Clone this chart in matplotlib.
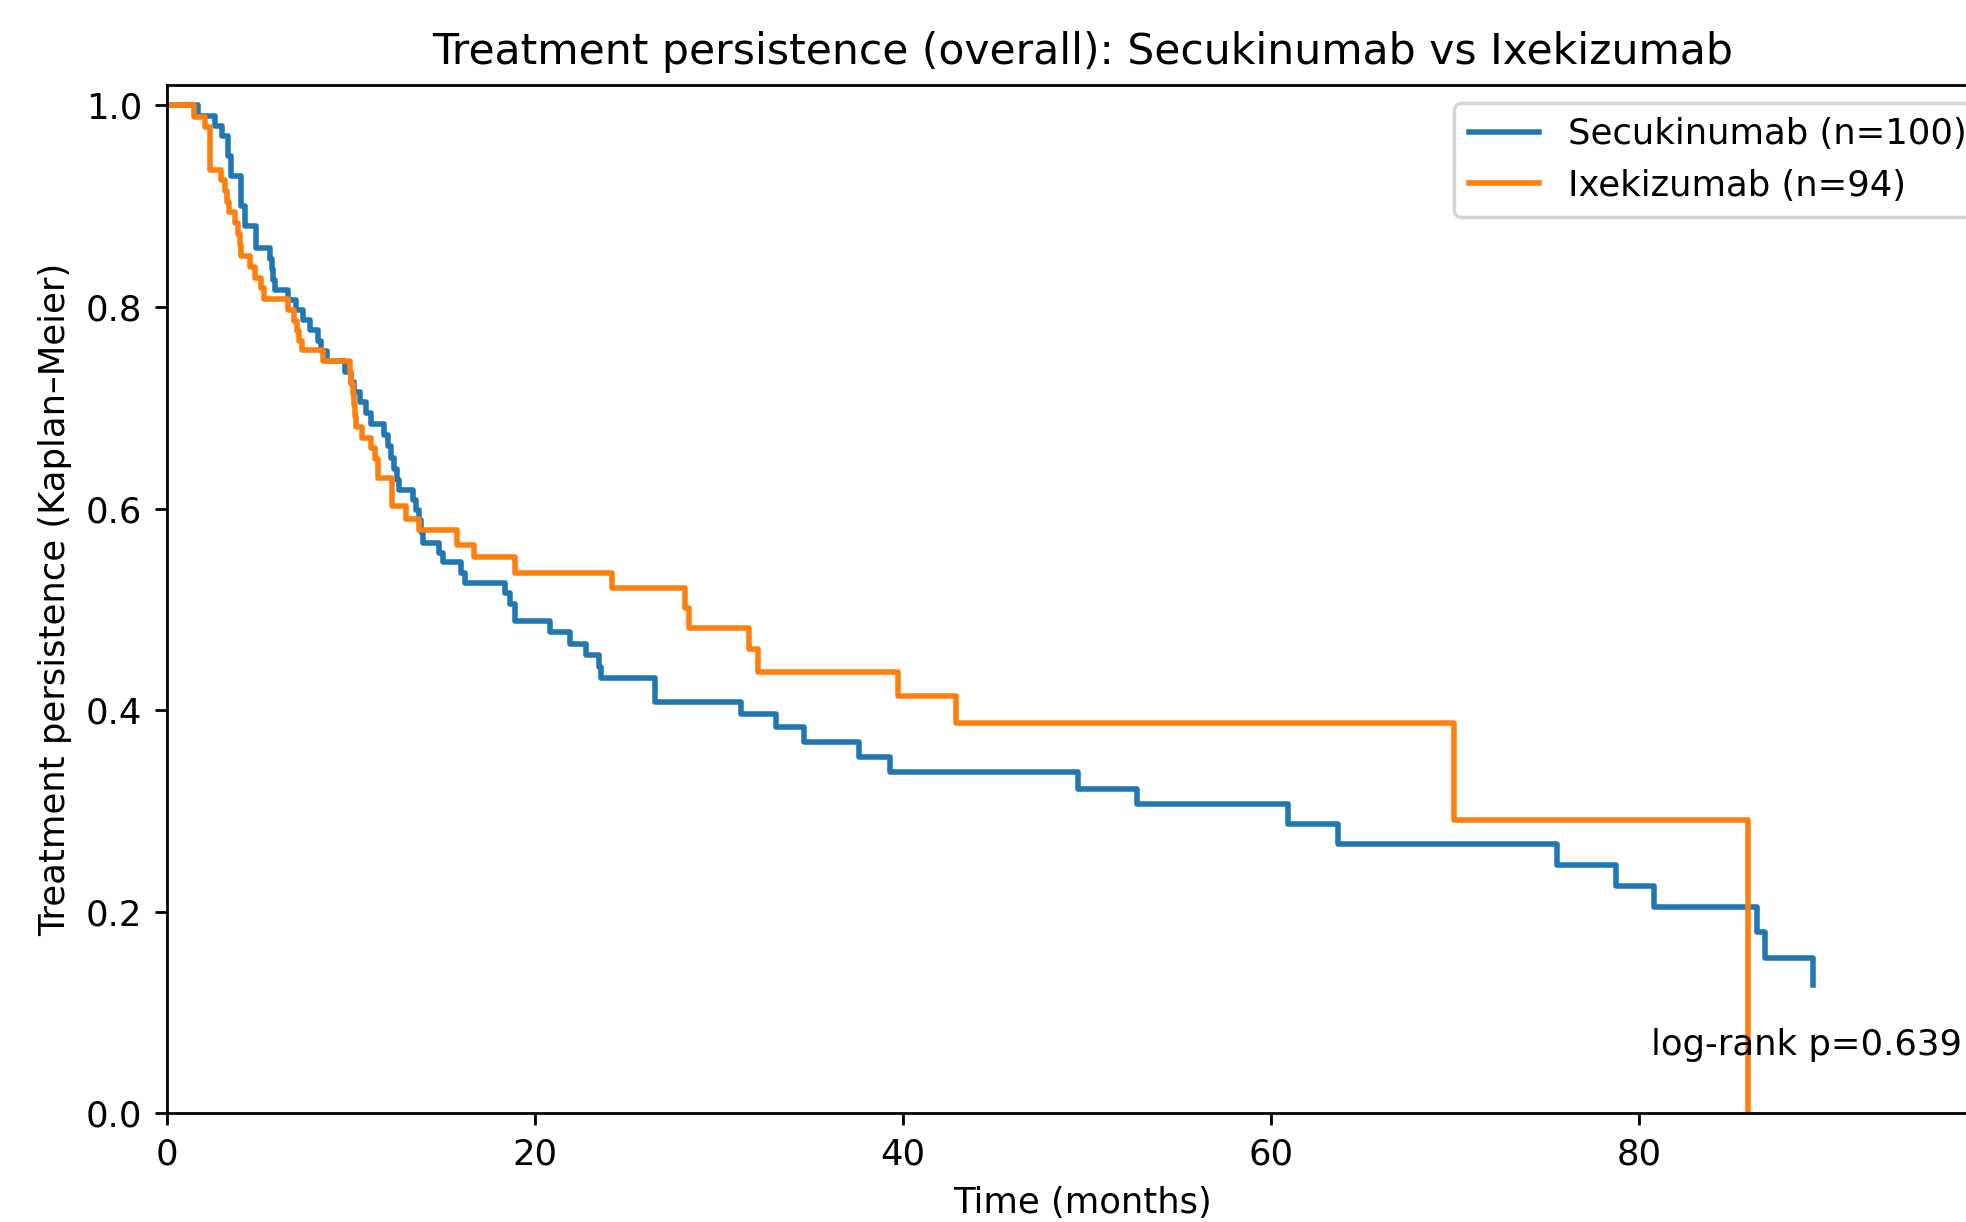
import matplotlib
matplotlib.use("Agg")
import matplotlib.pyplot as plt

# Kaplan-Meier steps (time in months, survival after event)
secu_t = [0, 1.7, 2.6, 3.0, 3.35, 3.5, 4.05, 4.25, 4.85, 5.6, 5.7, 5.8, 5.9,
          6.6, 7.0, 7.4, 7.8, 8.2, 8.4, 8.7, 9.7, 10.0, 10.2, 10.5, 10.8, 11.1,
          11.8, 12.0, 12.2, 12.35, 12.5, 12.6, 13.4, 13.55, 13.7, 13.8, 13.9,
          14.8, 15.0, 16.0, 16.2, 18.4, 18.65, 18.9, 20.8, 21.9, 22.8, 23.5, 23.6,
          26.5, 31.2, 33.1, 34.6, 37.6, 39.3, 49.5, 52.7, 60.9, 63.6, 75.5, 78.7,
          80.8, 86.4, 86.8, 89.4]
secu_s = [1.0, 0.99, 0.98, 0.97, 0.95, 0.93, 0.90, 0.88, 0.859, 0.848, 0.838, 0.827, 0.817,
          0.807, 0.797, 0.787, 0.777, 0.766, 0.756, 0.746, 0.736, 0.726, 0.716, 0.706, 0.695, 0.684,
          0.673, 0.662, 0.650, 0.639, 0.628, 0.619, 0.609, 0.599, 0.589, 0.577, 0.566,
          0.556, 0.547, 0.536, 0.526, 0.516, 0.505, 0.489, 0.478, 0.466, 0.455, 0.443, 0.432,
          0.408, 0.396, 0.383, 0.369, 0.354, 0.339, 0.322, 0.307, 0.287, 0.267, 0.247, 0.226,
          0.205, 0.180, 0.154, 0.127]

ixe_t = [0, 1.5, 2.1, 2.35, 2.95, 3.15, 3.3, 3.4, 3.7, 3.85, 4.0, 4.05, 4.5, 4.8, 5.1, 5.3,
         6.6, 6.9, 7.1, 7.2, 7.35, 8.5, 9.95, 10.0, 10.1, 10.2, 10.25, 10.3, 10.6, 11.1,
         11.3, 11.45, 11.5, 12.25, 13.0, 13.7, 15.75, 16.7, 18.9, 24.2, 28.15, 28.35,
         31.65, 32.1, 39.7, 42.9, 69.9, 85.9]
ixe_s = [1.0, 0.989, 0.979, 0.936, 0.926, 0.915, 0.904, 0.894, 0.883, 0.872, 0.862, 0.851, 0.840, 0.829, 0.819, 0.808,
         0.797, 0.786, 0.776, 0.766, 0.757, 0.746, 0.735, 0.724, 0.714, 0.703, 0.692, 0.681, 0.670, 0.660,
         0.649, 0.639, 0.630, 0.603, 0.590, 0.579, 0.564, 0.552, 0.536, 0.521, 0.501, 0.482,
         0.461, 0.438, 0.414, 0.387, 0.291, 0.0]

labels = ["Secukinumab (n=100)", "Ixekizumab (n=94)"]
p_text = "log-rank p=0.639"

plt.rcParams["font.size"] = 10.2
plt.rcParams["axes.titlesize"] = 12.24
plt.rcParams["lines.linewidth"] = 1.6

fig = plt.figure(figsize=(1966 / 250, 1222 / 250), dpi=250)
ax = fig.add_axes([0.0848, 0.0888, 0.9317, 0.8414])

ax.plot(secu_t, secu_s, drawstyle="steps-post", label=labels[0])
ax.plot(ixe_t, ixe_s, drawstyle="steps-post", label=labels[1])

ax.set_xlim(0, 99.5)
ax.set_ylim(0, 1.02)
ax.set_title("Treatment persistence (overall): Secukinumab vs Ixekizumab")
ax.set_xlabel("Time (months)")
ax.set_ylabel("Treatment persistence (Kaplan\u2013Meier)")
ax.legend(loc="upper right")
ax.text(0.98, 0.05, p_text, transform=ax.transAxes, ha="right", va="bottom")

fig.savefig("out.png", dpi=250)
